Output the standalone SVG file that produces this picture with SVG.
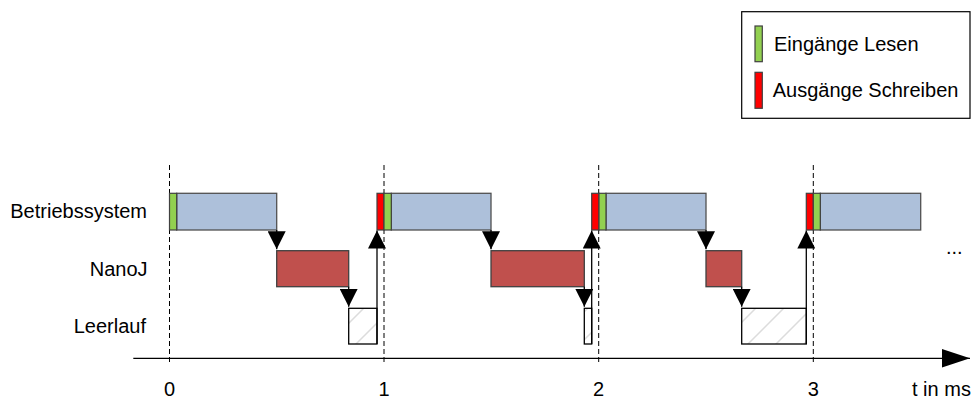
<svg xmlns="http://www.w3.org/2000/svg" width="973" height="401" viewBox="0 0 973 401">
<style>
text{font-family:"Liberation Sans",Arial,sans-serif;font-size:20px;fill:#000}
.os{fill:#adc0da;stroke:#505050;stroke-width:1.3}
.nj{fill:#c0504d;stroke:#404040;stroke-width:1.3}
.in{fill:#92d050;stroke:#404040;stroke-width:1.2}
.out{fill:#ff0000;stroke:#404040;stroke-width:1.2}
.idle{fill:url(#hatch);stroke:#000;stroke-width:1.3}
.tick{stroke:#000;stroke-width:1;stroke-dasharray:5,3;fill:none}
.conn{stroke:#000;stroke-width:1.3;fill:none;marker-end:url(#ah)}
</style>
<defs>
<pattern id="hatch" patternUnits="userSpaceOnUse" width="28" height="28" x="0" y="0">
<rect width="28" height="28" fill="#fff"/>
<path d="M-7,35 L35,-7 M-7,7 L7,-7 M21,35 L35,21" stroke="#dcdcdc" stroke-width="1.5"/>
</pattern>
<marker id="ah" markerUnits="userSpaceOnUse" markerWidth="18" markerHeight="18" refX="18" refY="9" orient="auto">
<path d="M0,0 L18,9 L0,18 z" fill="#000"/>
</marker>
<marker id="axh" markerUnits="userSpaceOnUse" markerWidth="29" markerHeight="19" refX="28" refY="9.2" orient="auto">
<path d="M0,0 L28,9.2 L0,18.4 z" fill="#000"/>
</marker>
</defs>

<g id="legend">
<rect x="741.7" y="11.7" width="228.3" height="106.6" fill="#fff" stroke="#000" stroke-width="1.2"/>
<rect class="in" x="755" y="26" width="7.3" height="35.7"/>
<rect class="out" x="755" y="72.3" width="7.3" height="36"/>
<text x="774" y="50.5">Eingänge Lesen</text>
<text x="772.7" y="96.5">Ausgänge Schreiben</text>
</g>

<g id="labels">
<text x="147" y="218.3" text-anchor="end">Betriebssystem</text>
<text x="147.5" y="276" text-anchor="end">NanoJ</text>
<text x="146" y="332.7" text-anchor="end">Leerlauf</text>
<text x="946" y="254">...</text>
<text x="169.5" y="396" text-anchor="middle">0</text>
<text x="384" y="396" text-anchor="middle">1</text>
<text x="598.5" y="396" text-anchor="middle">2</text>
<text x="813.3" y="396" text-anchor="middle">3</text>
<text x="912" y="396">t in ms</text>
</g>

<g id="ticks">
<line class="tick" x1="169.5" y1="165" x2="169.5" y2="364"/>
<line class="tick" x1="384" y1="165" x2="384" y2="364"/>
<line class="tick" x1="598.7" y1="165" x2="598.7" y2="364"/>
<line class="tick" x1="813.3" y1="165" x2="813.3" y2="364"/>
</g>

<g id="axis">
<line x1="133.3" y1="358.3" x2="970" y2="358.3" stroke="#000" stroke-width="1.3" marker-end="url(#axh)"/>
</g>

<g id="idle-1"><rect class="idle" x="348.7" y="308.3" width="28.3" height="35.7"/></g>
<g id="idle-2"><rect class="idle" x="584.3" y="308.3" width="7.4" height="35.7"/></g>
<g id="idle-3"><rect class="idle" x="741.7" y="308.3" width="64.6" height="35.7"/></g>

<g id="os-1">
<rect class="os" x="176.7" y="193.3" width="100" height="36.7"/>
<rect class="in" x="169.5" y="193.3" width="7.2" height="36.7"/>
</g>
<g id="nanoj-1"><rect class="nj" x="276.7" y="250.7" width="72" height="36"/></g>

<g id="os-2">
<rect class="os" x="391.3" y="193.3" width="99.7" height="36.7"/>
<rect class="out" x="377" y="193.3" width="7" height="36.7"/>
<rect class="in" x="384" y="193.3" width="7.3" height="36.7"/>
</g>
<g id="nanoj-2"><rect class="nj" x="491" y="250.7" width="93.3" height="36"/></g>

<g id="os-3">
<rect class="os" x="606" y="193.3" width="100" height="36.7"/>
<rect class="out" x="591.7" y="193.3" width="7.3" height="36.7"/>
<rect class="in" x="599" y="193.3" width="7" height="36.7"/>
</g>
<g id="nanoj-3"><rect class="nj" x="706" y="250.7" width="35.7" height="36"/></g>

<g id="os-4">
<rect class="os" x="820.3" y="193.3" width="100.4" height="36.7"/>
<rect class="out" x="806.3" y="193.3" width="7" height="36.7"/>
<rect class="in" x="813.3" y="193.3" width="7" height="36.7"/>
</g>

<g id="connectors">
<path class="conn" d="M276.7,230 L276.7,249.3"/>
<path class="conn" d="M348.7,286.7 L348.7,306.8"/>
<path class="conn" d="M377,344 L377,230.5"/>
<path class="conn" d="M491,230 L491,249.3"/>
<path class="conn" d="M584.3,286.7 L584.3,306.8"/>
<path class="conn" d="M591.7,344 L591.7,230.5"/>
<path class="conn" d="M706,230 L706,249.3"/>
<path class="conn" d="M741.7,286.7 L741.7,306.8"/>
<path class="conn" d="M806.3,344 L806.3,230.5"/>
</g>
</svg>
